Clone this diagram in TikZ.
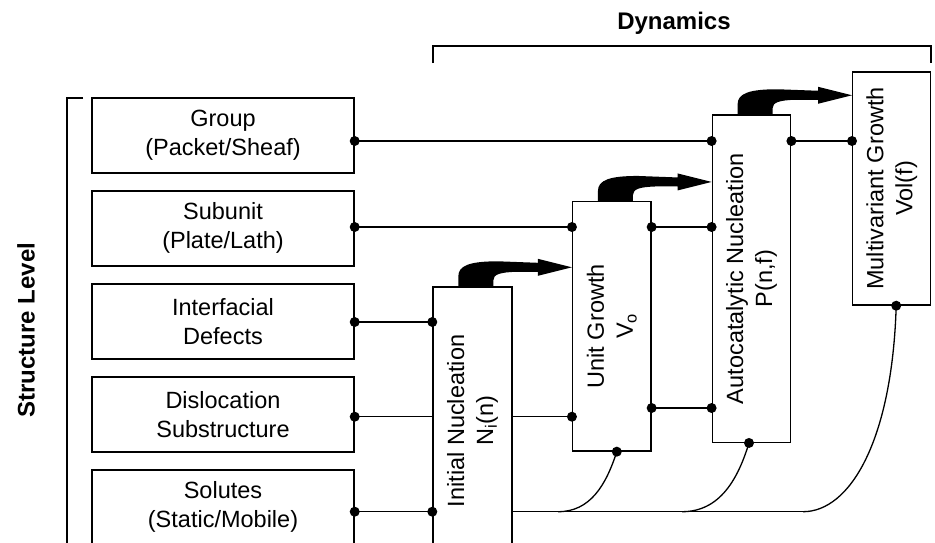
\documentclass[tikz,border=0pt]{standalone}
\usepackage{fontspec}
\setmainfont{Liberation Sans}
\usetikzlibrary{calc}
\newcommand\boxfont{\fontsize{23.5}{29}\selectfont}
\newcommand\headfont{\fontsize{24}{28}\selectfont\bfseries}
\newcommand\growarrow[2]{%
  \coordinate (b) at ([xshift=26pt]#1.north west);
  \coordinate (t) at ($(#2.west |- b)+(0,-19)$);
  \fill (b) -- ($(b)+(0,-10)$) .. controls ($(b)+(0,-21)$) and ($(b)+(12,-25)$) .. ($(b)+(40,-25)$)
    -- ($(t)+(-34,-4.5)$) -- ($(t)+(-34,-8.5)$) -- (t) -- ($(t)+(-34,8.5)$) -- ($(t)+(-34,4.5)$)
    -- ($(b)+(58,-14.5)$) .. controls ($(b)+(42,-14)$) and ($(b)+(35,-12)$) .. ($(b)+(35,-6)$)
    -- ($(b)+(35,0)$) -- cycle;
}
\begin{document}
\begin{tikzpicture}[x=1pt,y=-1pt,
  levelbox/.style={draw,line width=1.4pt,fill=white,minimum width=262,minimum height=75,align=center,inner sep=0pt,font=\boxfont},
  stagebox/.style={draw,line width=1.4pt,fill=white,inner sep=0pt},
  stagetext/.style={rotate=90,align=center,font=\boxfont},
  joint/.style={fill,circle,inner sep=0pt,minimum size=10pt},
  link/.style={line width=1.3pt}]
\useasboundingbox (0,0) rectangle (935,542);
\clip (0,0) rectangle (935,542);

\coordinate (r1) at (0,141);
\coordinate (r2) at (0,227);
\coordinate (r3) at (0,322);
\coordinate (r4) at (0,416.7);
\coordinate (r5) at (0,408);
\coordinate (r6) at (0,511.7);

\path (223,135.3) node[levelbox] (grp) {Group\\(Packet/Sheaf)};
\path (223,228.3) node[levelbox] (sub) {Subunit\\(Plate/Lath)};
\path (223,321.3) node[levelbox] (intf) {Interfacial\\Defects};
\path (223,414.3) node[levelbox] (disl) {Dislocation\\Substructure};
\path (223,507.3) node[levelbox] (sol) {Solutes\\(Static/Mobile)};

\path (472.5,421) coordinate (cinit);
\path (611.8,326.3) coordinate (cunit);
\path (751.5,278.6) coordinate (cauto);
\path (891.7,188.5) coordinate (cmulti);

\draw[link] (grp.east |- r1) -- (cauto |- r1);
\draw[link] (cauto |- r1) -- (cmulti |- r1);
\draw[link] (sub.east |- r2) -- (cunit |- r2);
\draw[link] (cunit |- r2) -- (cauto |- r2);
\draw[link] (intf.east |- r3) -- (cinit |- r3);
\draw[link] (disl.east |- r4) -- (cunit |- r4);
\draw[link] (cunit |- r5) -- (cauto |- r5);

\node[stagebox,minimum width=79,minimum height=268] (init) at (cinit) {};
\node[stagebox,minimum width=78.3,minimum height=249.3] (unit) at (cunit) {};
\node[stagebox,minimum width=78.4,minimum height=327.3] (auto) at (cauto) {};
\node[stagebox,minimum width=78,minimum height=233] (multi) at (cmulti) {};

\node[stagetext] at (init) {Initial Nucleation\\N\textsubscript{i}(n)};
\node[stagetext] at (unit) {Unit Growth\\V\textsubscript{o}};
\node[stagetext] at (auto) {Autocatalytic Nucleation\\P(n,f)};
\node[stagetext] at (multi) {Multivariant Growth\\Vol(f)};

\coordinate (ud) at ([xshift=5pt]unit.south);
\coordinate (ad) at ([xshift=-2.5pt]auto.south);
\coordinate (md) at ([xshift=4.5pt]multi.south);
\coordinate (m1) at (558,511.7);
\coordinate (m2) at (682,511.7);
\coordinate (m3) at (803,511.7);

\draw[link] (sol.east |- r6) -- (init.west |- r6);
\draw[link] (init.east |- r6) -- (m3);
\draw[link] (ud) .. controls ($(ud)+(-11,34)$) and ($(m1)+(32,0)$) .. (m1);
\draw[link] (ad) .. controls ($(ad)+(-11,36)$) and ($(m2)+(38,0)$) .. (m2);
\draw[link] (md) .. controls ($(md)+(-4,135)$) and ($(m3)+(47,0)$) .. (m3);

\foreach \p in {{grp.east |- r1},{auto.west |- r1},{auto.east |- r1},{multi.west |- r1},
  {sub.east |- r2},{unit.west |- r2},{unit.east |- r2},{auto.west |- r2},
  {intf.east |- r3},{init.west |- r3},{disl.east |- r4},{unit.west |- r4},
  {unit.east |- r5},{auto.west |- r5},{sol.east |- r6},{init.west |- r6},ud,ad,md}
  \node[joint] at (\p) {};

\growarrow{init}{unit}
\growarrow{unit}{auto}
\growarrow{auto}{multi}

\draw[link] (433,63) -- (433,46) -- (931,46) -- (931,63);
\node[font=\headfont] (dyn) at (674,23) {Dynamics};
\draw[link] (83,98) -- (67,98) -- (67,560);
\node[font=\headfont,rotate=90] (lev) at (26,330) {Structure Level};
\end{tikzpicture}
\end{document}
